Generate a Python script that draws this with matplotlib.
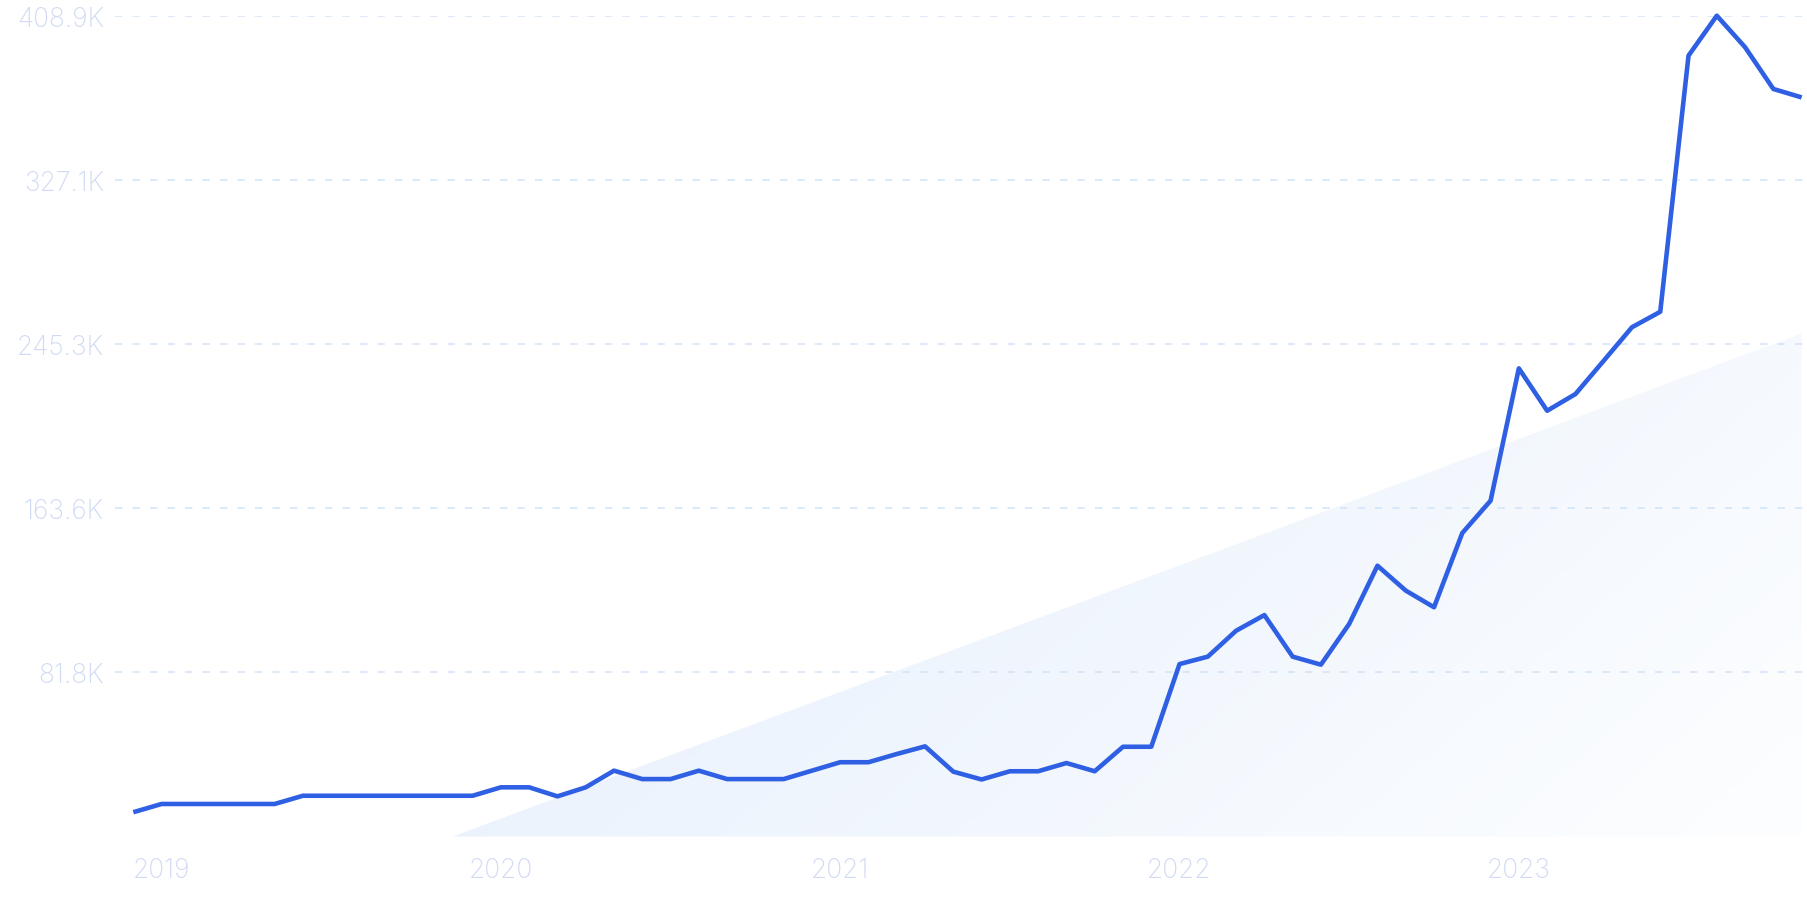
import matplotlib.pyplot as plt
import numpy as np
from matplotlib.colors import LinearSegmentedColormap
from matplotlib.patches import Polygon

# monthly values, Dec 2018 .. Nov 2023 (thousands)
months = [f"{y}-{m:02d}" for y in range(2018, 2024) for m in range(1, 13)][11:71]
values = [12.1, 16.2, 16.2, 16.2, 16.2, 16.2, 20.3, 20.3, 20.3, 20.3,
          20.3, 20.3, 20.3, 24.5, 24.5, 20.0, 24.5, 32.8, 28.6, 28.6,
          32.8, 28.6, 28.6, 28.6, 32.8, 37.0, 37.0, 41.1, 44.9, 32.3,
          28.4, 32.5, 32.5, 36.6, 32.5, 44.7, 44.7, 85.9, 89.6, 102.5,
          110.3, 89.6, 85.6, 105.9, 134.9, 122.5, 114.2, 151.2, 167.3, 233.2,
          212.1, 220.4, 237.0, 253.7, 261.4, 389.0, 408.9, 393.2, 372.4, 368.2]

ytick_vals = [81.78, 163.56, 245.34, 327.12, 408.9]
ytick_labels = ["81.8K", "163.6K", "245.3K", "327.1K", "408.9K"]
year_labels = ["2019", "2020", "2021", "2022", "2023"]
year_pos = [months.index(f"{y}-01") for y in year_labels]

# trend area
trend_x = [11.3, 59]
trend_y = [0, 250.6]

W, H = 1807, 903
fig = plt.figure(figsize=(W / 100, H / 100), dpi=100)
ax = fig.add_axes([115 / W, (H - 837.5) / H, (W - 115) / W, (837.5 - 16.7) / H])

x = np.arange(len(values))
ax.set_xlim(-0.647, 59.19)
ax.set_ylim(0, 408.9)

# gradient triangle, bluish upper-left fading to white lower-right
cmap = LinearSegmentedColormap.from_list("g", ["#e4eefc", "#fdfeff"])
gx, gy = np.meshgrid(np.linspace(0, 1, 300), np.linspace(0, 1, 300))
grad = (1.4 * gx + 0.6 * gy) / 2
img = ax.imshow(grad, cmap=cmap, extent=[trend_x[0], trend_x[1], 0, trend_y[1]],
                origin="upper", aspect="auto", zorder=1, interpolation="bilinear")
tri = Polygon([(trend_x[0], trend_y[0]), (trend_x[1], trend_y[1]), (trend_x[1], 0)],
              closed=True, facecolor="none", edgecolor="none")
ax.add_patch(tri)
img.set_clip_path(tri)

for v in ytick_vals:
    ax.axhline(v, color="#d4e5f8", lw=1.2, dashes=(4.4, 6.1), zorder=2)

ax.plot(x, values, color="#2f60e3", lw=3.3, zorder=3, clip_on=False,
        solid_joinstyle="round", solid_capstyle="butt")

ax.set_yticks(ytick_vals)
ax.set_yticklabels(ytick_labels)
ax.set_xticks(year_pos)
ax.set_xticklabels(year_labels)
ax.tick_params(axis="both", length=0, colors="#d0daf4", labelsize=19)
ax.tick_params(axis="y", pad=8)
ax.tick_params(axis="x", pad=15)
for lab in ax.get_xticklabels() + ax.get_yticklabels():
    lab.set_fontfamily(["Inter", "DejaVu Sans"])
    lab.set_fontweight("light")
for s in ax.spines.values():
    s.set_visible(False)

fig.savefig("out.png", dpi=100)
